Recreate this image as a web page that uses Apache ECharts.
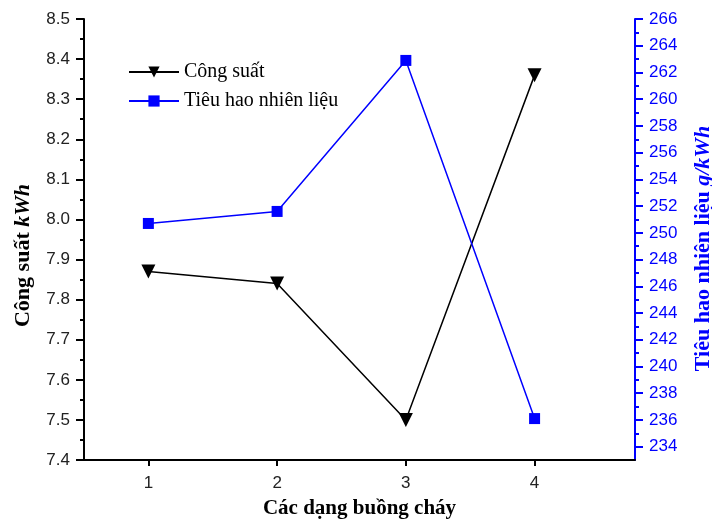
<!DOCTYPE html>
<html><head><meta charset="utf-8">
<script src="https://cdn.jsdelivr.net/npm/echarts@6/dist/echarts.min.js"></script>
<style>html,body{margin:0;padding:0;background:#fff}#c{width:712px;height:521px}</style>
</head><body><div id="c"></div>
<script>
var categories = [1, 2, 3, 4];
var congSuat = [7.87, 7.84, 7.50, 8.36];
var tieuHao = [250.7, 251.6, 262.9, 236.1];
var rightTicks = [234,236,238,240,242,244,246,248,250,252,254,256,258,260,262,264,266];
var rightMinor = [235,237,239,241,243,245,247,249,251,253,255,257,259,261,263,265];

var chart = echarts.init(document.getElementById('c'), null, {renderer:'canvas'});
var serif = 'Liberation Serif';
var sans = 'Liberation Sans';
chart.setOption({
  animation:false,
  backgroundColor:'#fff',
  grid:{left:84, right:77, top:19, bottom:61, containLabel:false, outerBoundsMode:'none'},
  legend:{
    orient:'vertical', left:123, top:57, itemGap:9, itemWidth:50, itemHeight:14,
    textStyle:{fontFamily:serif, fontSize:20, color:'#000'},
    data:['Công suất','Tiêu hao nhiên liệu']
  },
  xAxis:{
    type:'value', min:0.5, max:4.78,
    name:'Các dạng buồng cháy', nameLocation:'middle', nameGap:38,
    nameTextStyle:{fontFamily:serif, fontWeight:'bold', fontSize:21, color:'#000'},
    axisLine:{show:true, onZero:false, lineStyle:{color:'#000', width:2}},
    axisTick:{show:true, length:6, customValues:categories, lineStyle:{color:'#000', width:2}},
    axisLabel:{customValues:categories, margin:15, fontFamily:sans, fontSize:17, color:'#222'},
    splitLine:{show:false}
  },
  yAxis:[{
    type:'value', min:7.4, max:8.5, interval:0.1, position:'left',
    name:'{b|Công suất }{i|kWh}', nameLocation:'middle', nameGap:50, nameRotate:90,
    nameTextStyle:{padding:[0,32,0,0], rich:{
      b:{fontFamily:serif, fontWeight:'bold', fontSize:22, color:'#000'},
      i:{fontFamily:serif, fontWeight:'bold', fontStyle:'italic', fontSize:22, color:'#000'}
    }},
    axisLine:{show:true, lineStyle:{color:'#000', width:2}},
    axisTick:{show:true, length:8, lineStyle:{color:'#000', width:2}},
    minorTick:{show:true, splitNumber:2, length:4, lineStyle:{color:'#000', width:2}},
    axisLabel:{margin:14, fontFamily:sans, fontSize:17, color:'#222', formatter:function(v){return v.toFixed(1);}},
    splitLine:{show:false}
  },{
    type:'value', min:233, max:266, position:'right',
    name:'{b|Tiêu hao nhiên liệu }{i|g/kWh}', nameLocation:'middle', nameGap:57, nameRotate:90,
    nameTextStyle:{padding:[0,18,0,0], rich:{
      b:{fontFamily:serif, fontWeight:'bold', fontSize:22, color:'#0000ff'},
      i:{fontFamily:serif, fontWeight:'bold', fontStyle:'italic', fontSize:22, color:'#0000ff'}
    }},
    axisLine:{show:true, lineStyle:{color:'#0000ff', width:2}},
    axisTick:{show:true, length:8, customValues:rightTicks, lineStyle:{color:'#0000ff', width:2}},
    axisLabel:{customValues:rightTicks, margin:14, fontFamily:sans, fontSize:17, color:'#0000ff'},
    splitLine:{show:false}
  },{
    type:'value', min:233, max:266, position:'right',
    axisLine:{show:false},
    axisTick:{show:true, length:4, customValues:rightMinor, lineStyle:{color:'#0000ff', width:2}},
    axisLabel:{show:false},
    splitLine:{show:false}
  }],
  series:[{
    name:'Công suất', type:'line', yAxisIndex:0,
    data:categories.map(function(c,i){return [c, congSuat[i]];}),
    symbol:'triangle', symbolRotate:180, symbolSize:14,
    lineStyle:{color:'#000', width:1.5}, itemStyle:{color:'#000'}
  },{
    name:'Tiêu hao nhiên liệu', type:'line', yAxisIndex:1,
    data:categories.map(function(c,i){return [c, tieuHao[i]];}),
    symbol:'rect', symbolSize:11,
    lineStyle:{color:'#0000ff', width:1.5}, itemStyle:{color:'#0000ff'}
  }]
});
</script></body></html>
